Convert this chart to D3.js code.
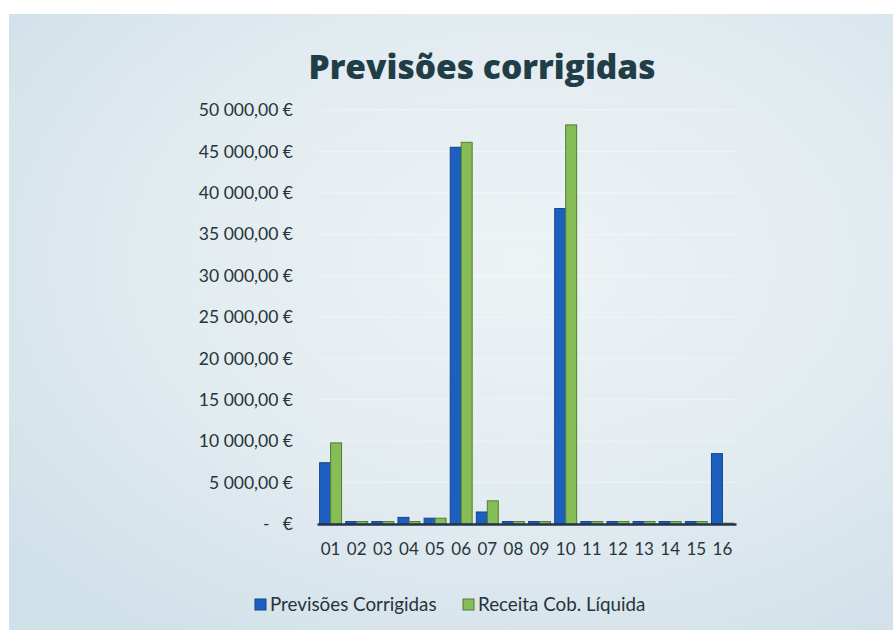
<!DOCTYPE html>
<html><head><meta charset="utf-8">
<script src="https://cdn.jsdelivr.net/npm/d3@7"></script>
<style>html,body{margin:0;padding:0;background:#fff;}svg{display:block;}</style>
</head><body>
<script>
const categories = ["01","02","03","04","05","06","07","08","09","10","11","12","13","14","15","16"];
const previsoes = [7400, 300, 300, 800, 700, 45500, 1450, 300, 300, 38100, 300, 300, 300, 300, 300, 8500];
const receita   = [9800, 300, 300, 300, 700, 46100, 2800, 300, 300, 48200, 300, 300, 300, 300, 300, 100];
const yTicks = [0, 5000, 10000, 15000, 20000, 25000, 30000, 35000, 40000, 45000, 50000];
const seriesNames = ["Previsões Corrigidas", "Receita Cob. Líquida"];
const title = "Previsões corrigidas";

const W = 893, H = 630;
const svg = d3.select("body").append("svg").attr("width", W).attr("height", H);
const defs = svg.append("defs");
const rg = defs.append("radialGradient").attr("id","bg").attr("cx","58%").attr("cy","40%").attr("r","75%");
rg.append("stop").attr("offset","0%").attr("stop-color","#edf3f5");
rg.append("stop").attr("offset","55%").attr("stop-color","#e2ebf0");
rg.append("stop").attr("offset","100%").attr("stop-color","#d0e0e9");
svg.append("rect").attr("x",9).attr("y",14).attr("width",W-9).attr("height",H-14).attr("fill","url(#bg)");

const x = d3.scaleBand().domain(categories).range([317, 736]).paddingInner(0.16).paddingOuter(0.1);
const x1 = d3.scaleBand().domain([0,1]).range([0, x.bandwidth()]);
const y = d3.scaleLinear().domain([0, 50000]).range([524, 110]);

// faint gridlines
svg.append("g").selectAll("line").data(yTicks.slice(1)).join("line")
  .attr("x1",317).attr("x2",736).attr("y1",d=>y(d)).attr("y2",d=>y(d))
  .attr("stroke","#ffffff").attr("stroke-opacity",0.4).attr("stroke-width",1);

// title
svg.append("text").attr("x",482).attr("y",79).attr("text-anchor","middle")
  .attr("font-family","'Open Sans', Lato, sans-serif").attr("font-weight",800)
  .attr("font-size",33.5).attr("fill","#1f3e48")
  .text(title);

// y axis
const fmt = v => v === 0 ? "-   €" : d3.format(",.2f")(v).replace(/,/g," ").replace(".",",") + " €";
const yAxis = d3.axisLeft(y).tickValues(yTicks).tickFormat(fmt).tickSize(0).tickPadding(0);
const yg = svg.append("g").attr("transform","translate(293,0)").call(yAxis);
yg.select(".domain").remove();
yg.selectAll("text").attr("font-family","Lato, 'Open Sans', sans-serif").attr("font-size",17.5).attr("fill","#27343a").attr("xml:space","preserve").style("white-space","pre");

// bars
const colors = ["#1d5fc0", "#86bd57"];
const strokes = ["#17448a", "#4f7f2c"];
const data = categories.map((c,i)=>({c, v:[previsoes[i], receita[i]]}));
const g = svg.append("g");
data.forEach(d=>{
  d.v.forEach((v,k)=>{
    g.append("rect")
      .attr("x", x(d.c) + x1(k))
      .attr("y", y(v))
      .attr("width", x1.bandwidth())
      .attr("height", y(0) - y(v))
      .attr("fill", colors[k]).attr("stroke", strokes[k]).attr("stroke-width",1);
  });
});

// x axis
const xAxis = d3.axisBottom(x).tickSize(0).tickPadding(19);
const xg = svg.append("g").attr("transform","translate(0,524)").call(xAxis);
xg.select(".domain").attr("stroke","#25344a").attr("stroke-width",2.5);
xg.selectAll("text").attr("font-family","Lato, 'Open Sans', sans-serif").attr("font-size",17).attr("fill","#27343a");

// legend
const lg = svg.append("g").attr("font-family","Lato, 'Open Sans', sans-serif").attr("font-size",18.8).attr("fill","#27343a");
const lx = [255, 463];
seriesNames.forEach((n,k)=>{
  lg.append("rect").attr("x",lx[k]).attr("y",599).attr("width",11).attr("height",11).attr("fill",colors[k]).attr("stroke",strokes[k]);
  lg.append("text").attr("x",lx[k]+15).attr("y",611).text(n);
});
</script>
</body></html>
